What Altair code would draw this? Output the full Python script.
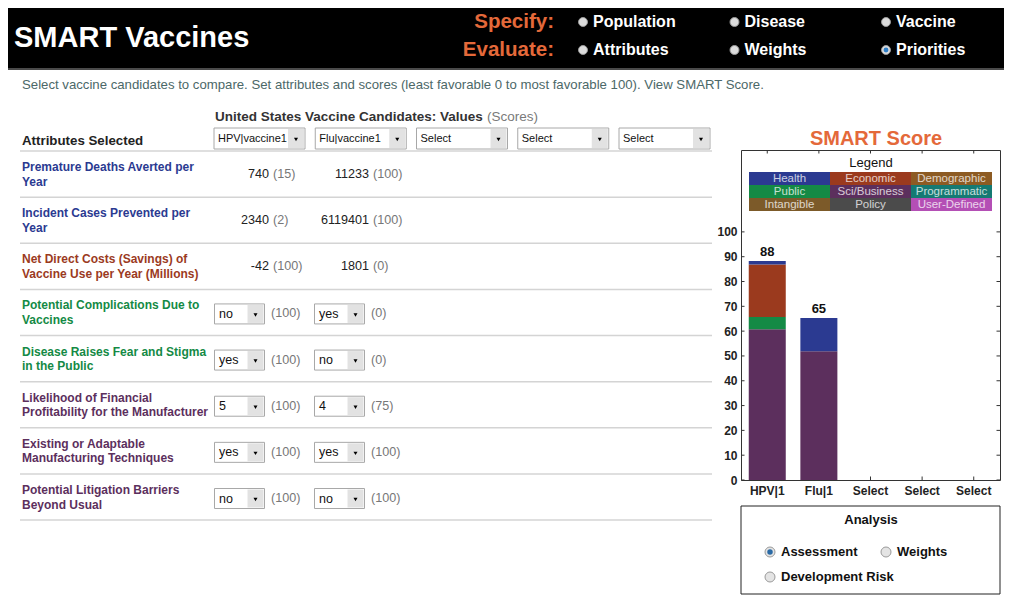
import altair as alt
import pandas as pd

FONT = "Liberation Sans"

# ---------------- values ----------------
candidates = ["HPV|1", "Flu|1", "Select1", "Select2", "Select3"]
candidate_menus = ["HPV|vaccine1", "Flu|vaccine1", "Select", "Select", "Select"]

categories = ["Health", "Economic", "Demographic", "Public", "Sci/Business",
              "Programmatic", "Intangible", "Policy", "User-Defined"]
category_colors = ["#2b3a91", "#9b3a1e", "#8d5b23", "#148a45", "#5c2f5d",
                   "#147a73", "#7c5a29", "#4b4b4b", "#b44fb5"]

score_candidate = ["HPV|1", "HPV|1", "HPV|1", "HPV|1", "Flu|1", "Flu|1"]
score_category = ["Sci/Business", "Public", "Economic", "Health", "Sci/Business", "Health"]
score_value = [60.8, 4.9, 21.2, 1.4, 51.9, 13.4]

y_ticks = [0, 10, 20, 30, 40, 50, 60, 70, 80, 90, 100]

attributes = [
    "Premature Deaths Averted per\nYear",
    "Incident Cases Prevented per\nYear",
    "Net Direct Costs (Savings) of\nVaccine Use per Year (Millions)",
    "Potential Complications Due to\nVaccines",
    "Disease Raises Fear and Stigma\nin the Public",
    "Likelihood of Financial\nProfitability for the Manufacturer",
    "Existing or Adaptable\nManufacturing Techniques",
    "Potential Litigation Barriers\nBeyond Usual",
]
attribute_category = ["Health", "Health", "Economic", "Public", "Public",
                      "Sci/Business", "Sci/Business", "Sci/Business"]
attribute_input = ["number", "number", "number", "menu", "menu", "menu", "menu", "menu"]
hpv_values = ["740", "2340", "-42", "no", "yes", "5", "yes", "no"]
hpv_scores = [15, 2, 100, 100, 100, 100, 100, 100]
flu_values = ["11233", "6119401", "1801", "yes", "no", "4", "yes", "no"]
flu_scores = [100, 100, 0, 0, 0, 75, 100, 100]

specify_options = ["Population", "Disease", "Vaccine"]
evaluate_options = ["Attributes", "Weights", "Priorities"]
selected_nav = "Priorities"

analysis_options = ["Assessment", "Weights", "Development Risk"]
selected_analysis = "Assessment"

ORANGE = "#e4693a"

# ---------------- layout helpers (page pixel -> plot-relative pixel) ----------------
OX, OY = 741, 150


def X(px):
    return px - OX


def Y(py):
    return py - OY


one = pd.DataFrame({"k": [0]})


def text_at(txt, px, py, **kw):
    kw.setdefault("font", FONT)
    return alt.Chart(one).mark_text(text=txt, **kw).encode(
        x=alt.value(X(px)), y=alt.value(Y(py)))


def rect_at(px1, py1, px2, py2, **kw):
    return alt.Chart(one).mark_rect(**kw).encode(
        x=alt.value(X(px1)), x2=alt.value(X(px2)),
        y=alt.value(Y(py1)), y2=alt.value(Y(py2)))


# ---------------- header ----------------
header = alt.layer(
    rect_at(8, 8, 1004, 68, color="black"),
    rect_at(8, 68, 1004, 70, color="#4a4a4a"),
    text_at("SMART Vaccines", 14, 38, align="left", baseline="middle",
            fontSize=29, fontWeight="bold", color="white"),
)

nav_df = pd.DataFrame({
    "group": ["Specify"] * 3 + ["Evaluate"] * 3,
    "col": [0, 1, 2, 0, 1, 2],
    "option": specify_options + evaluate_options,
})
nav_df["selected"] = nav_df["option"] == selected_nav
groups_df = pd.DataFrame({"group": ["Specify", "Evaluate"]})
nx = alt.X("col:O", scale=alt.Scale(type="point", domain=[0, 1, 2],
                                     range=[X(583), X(886)], padding=0), axis=None)
ny = alt.Y("group:N", scale=alt.Scale(type="point", domain=["Specify", "Evaluate"],
                                       range=[Y(22), Y(50)], padding=0), axis=None)
nav = alt.layer(
    alt.Chart(groups_df).transform_calculate(lbl="datum.group + ':'").mark_text(
        align="right", baseline="middle", font=FONT, fontSize=20.5, fontWeight="bold",
        color=ORANGE).encode(x=alt.value(X(554)), y=ny, text="lbl:N"),
    alt.Chart(nav_df).mark_circle(size=80, fill="#dcdcdc", stroke="#9a9a9a",
                                  strokeWidth=1, opacity=1).encode(x=nx, y=ny),
    alt.Chart(nav_df).transform_filter("datum.selected").mark_circle(
        size=24, color="#2f7fc8", opacity=1).encode(x=nx, y=ny),
    alt.Chart(nav_df).mark_text(align="left", baseline="middle", dx=10, font=FONT,
                                fontSize=16, fontWeight="bold", color="white").encode(
        x=nx, y=ny, text="option:N"),
)

# ---------------- instructions and table headings ----------------
headings = alt.layer(
    text_at("Select vaccine candidates to compare. Set attributes and scores "
            "(least favorable 0 to most favorable 100). View SMART Score.",
            22, 85, align="left", baseline="middle", fontSize=13.2, color="#4c6868"),
    text_at("United States Vaccine Candidates: Values", 215, 117, align="left",
            baseline="middle", fontSize=13.5, fontWeight="bold", color="#333333"),
    text_at("(Scores)", 487, 117, align="left", baseline="middle", fontSize=13.5,
            color="#7a7a7a"),
    text_at("Attributes Selected", 22, 141, align="left", baseline="middle",
            fontSize=13.3, fontWeight="bold", color="#222222"),
    text_at("SMART Score", 876, 139, align="center", baseline="middle",
            fontSize=20, fontWeight="bold", color=ORANGE),
)

# header drop-down menus
menus_df = pd.DataFrame({"candidate": candidates, "menu": candidate_menus})
hx = alt.X("candidate:N", scale=alt.Scale(type="point", domain=candidates,
                                           range=[X(214), X(619)], padding=0), axis=None)
hy1, hy2 = alt.value(Y(128)), alt.value(Y(149))
menus = alt.layer(
    alt.Chart(menus_df).mark_rect(width=91, xOffset=45.5, fill="white",
                                  stroke="#a8a8a8", strokeWidth=1).encode(x=hx, y=hy1, y2=hy2),
    alt.Chart(menus_df).mark_rect(width=16, xOffset=82, fill="#e2e2e2").encode(
        x=hx, y=alt.value(Y(129)), y2=alt.value(Y(148))),
    alt.Chart(menus_df).mark_point(shape="triangle-down", filled=True, size=16,
                                   color="black", opacity=1, xOffset=82).encode(
        x=hx, y=alt.value(Y(139.5))),
    alt.Chart(menus_df).mark_text(align="left", baseline="middle", dx=4, font=FONT,
                                  fontSize=11, color="#111111").encode(
        x=hx, y=alt.value(Y(138.5)), text="menu:N"),
)

# row separators
sep_df = pd.DataFrame({"sep": list(range(len(attributes) + 1))})
separators = alt.Chart(sep_df).mark_rule(color="#d4d4d4", strokeWidth=1.5).encode(
    y=alt.Y("sep:Q", scale=alt.Scale(domain=[0, len(attributes)], range=[Y(151), Y(520)]),
            axis=None),
    x=alt.value(X(20)), x2=alt.value(X(712)))

# table body
rows = []
for i, a in enumerate(attributes):
    for cand, vals, scs in (("HPV|1", hpv_values, hpv_scores), ("Flu|1", flu_values, flu_scores)):
        rows.append({"attribute": a, "category": attribute_category[i],
                     "input": attribute_input[i], "candidate": cand,
                     "value": vals[i], "score": f"({scs[i]})"})
table_df = pd.DataFrame(rows)
labels_df = pd.DataFrame({"attribute": attributes, "category": attribute_category})

cat_scale = alt.Scale(domain=categories, range=category_colors)
ty = alt.Y("attribute:N", scale=alt.Scale(type="point", domain=attributes,
                                           range=[Y(174), Y(497)], padding=0), axis=None)
tx = alt.X("candidate:N", scale=alt.Scale(type="point", domain=["HPV|1", "Flu|1"],
                                           range=[X(270), X(370)], padding=0), axis=None)
nums = alt.Chart(table_df).transform_filter("datum.input === 'number'")
sels = alt.Chart(table_df).transform_filter("datum.input === 'menu'")
table = alt.layer(
    alt.Chart(labels_df).mark_text(align="left", baseline="middle", lineBreak="\n",
                                   lineHeight=14.5, dy=-7, font=FONT, fontSize=12,
                                   fontWeight="bold").encode(
        x=alt.value(X(22)), y=ty, text="attribute:N",
        color=alt.Color("category:N", scale=cat_scale, legend=None)),
    nums.mark_text(align="right", baseline="middle", dx=-1, font=FONT, fontSize=12.6,
                   color="#222222").encode(x=tx, y=ty, text="value:N"),
    nums.mark_text(align="left", baseline="middle", dx=3, font=FONT, fontSize=12.6,
                   color="#777777").encode(x=tx, y=ty, text="score:N"),
    sels.mark_rect(width=50, height=20, xOffset=-30.5, yOffset=1.5, fill="white",
                   stroke="#a8a8a8", strokeWidth=1).encode(x=tx, y=ty),
    sels.mark_rect(width=16, height=18, xOffset=-14.5, yOffset=1.5,
                   fill="#e2e2e2").encode(x=tx, y=ty),
    sels.mark_point(shape="triangle-down", filled=True, size=16, color="black",
                    opacity=1, xOffset=-14.5, yOffset=2.5).encode(x=tx, y=ty),
    sels.mark_text(align="left", baseline="middle", dx=-51, dy=1.5, font=FONT,
                   fontSize=12.5, color="#111111").encode(x=tx, y=ty, text="value:N"),
    sels.mark_text(align="left", baseline="middle", dx=1, dy=1, font=FONT,
                   fontSize=12.6, color="#777777").encode(x=tx, y=ty, text="score:N"),
)

# ---------------- SMART score plot ----------------
scores_df = pd.DataFrame({"candidate": score_candidate, "category": score_category,
                          "value": score_value})
tick_df = pd.DataFrame({"value": y_ticks})
cand_df = pd.DataFrame({"candidate": candidates})

axis_style = dict(title=None, ticks=False, domain=False, grid=False, labelFont=FONT,
                  labelFontSize=12, labelFontWeight="bold", labelColor="#222222")
xcand = alt.X("candidate:N",
              scale=alt.Scale(domain=candidates, paddingInner=0.283, paddingOuter=0.15),
              axis=alt.Axis(labelAngle=0, labelPadding=5,
                            labelExpr="indexof(datum.label, 'Select') === 0 ? 'Select' : datum.label",
                            **axis_style))
yscale = alt.Scale(domain=[0, 133], nice=False, zero=True)
yaxis = alt.Axis(values=y_ticks, labelPadding=4, **axis_style)

tick_color = "#333333"
score_plot = alt.layer(
    alt.Chart(tick_df).mark_rule(color=tick_color).encode(
        y=alt.Y("value:Q", scale=yscale, axis=yaxis), x=alt.value(0), x2=alt.value(3.5)),
    alt.Chart(tick_df).mark_rule(color=tick_color).encode(
        y=alt.Y("value:Q", scale=yscale, axis=yaxis), x=alt.value(255.5), x2=alt.value(259)),
    alt.Chart(cand_df).mark_rule(color=tick_color).encode(
        x=xcand, y=alt.value(0), y2=alt.value(3.5)),
    alt.Chart(cand_df).mark_rule(color=tick_color).encode(
        x=xcand, y=alt.value(326.5), y2=alt.value(330)),
    alt.Chart(scores_df).transform_calculate(
        rank=f"indexof({categories}, datum.category)"
    ).mark_bar().encode(
        x=xcand,
        y=alt.Y("value:Q", stack="zero", scale=yscale, axis=yaxis),
        color=alt.Color("category:N", scale=cat_scale, legend=None),
        order=alt.Order("rank:Q", sort="descending")),
    alt.Chart(scores_df).transform_aggregate(
        value="sum(value)", groupby=["candidate"]
    ).mark_text(baseline="bottom", dy=-2, font=FONT, fontSize=13, fontWeight="bold",
                color="#111111").encode(
        x=xcand, y=alt.Y("value:Q", scale=yscale, axis=yaxis),
        text=alt.Text("value:Q", format=".0f")),
)

# legend drawn inside the plot frame
legend_df = pd.DataFrame({"category": categories,
                          "lcol": [i % 3 for i in range(len(categories))],
                          "lrow": [i // 3 for i in range(len(categories))]})
lx = alt.X("lcol:O", scale=alt.Scale(type="band", domain=[0, 1, 2], range=[X(749), X(992)],
                                      paddingInner=0, paddingOuter=0), axis=None)
ly = alt.Y("lrow:O", scale=alt.Scale(type="band", domain=[0, 1, 2], range=[Y(172), Y(211)],
                                      paddingInner=0, paddingOuter=0), axis=None)
legend = alt.layer(
    text_at("Legend", 871, 163, align="center", baseline="middle", fontSize=13,
            color="#111111"),
    alt.Chart(legend_df).mark_rect().encode(
        x=lx, y=ly, color=alt.Color("category:N", scale=cat_scale, legend=None)),
    alt.Chart(legend_df).mark_text(baseline="middle", font=FONT, fontSize=11.5,
                                   color="white", opacity=0.75).encode(
        x=lx, y=ly, text="category:N"),
)

# ---------------- analysis box ----------------
an_df = pd.DataFrame({"option": analysis_options,
                      "acol": [i % 2 for i in range(len(analysis_options))],
                      "arow": [i // 2 for i in range(len(analysis_options))]})
an_df["selected"] = an_df["option"] == selected_analysis
ax = alt.X("acol:O", scale=alt.Scale(type="point", domain=[0, 1], range=[X(770), X(886)],
                                      padding=0), axis=None)
ay = alt.Y("arow:O", scale=alt.Scale(type="point", domain=[0, 1], range=[Y(552), Y(577)],
                                      padding=0), axis=None)
analysis = alt.layer(
    rect_at(741, 506, 1000, 594, fill="white", stroke="#222222", strokeWidth=1),
    text_at("Analysis", 871, 520, align="center", baseline="middle", fontSize=13,
            fontWeight="bold", color="#111111"),
    alt.Chart(an_df).mark_circle(size=100, fill="#e4e4e4", stroke="#9a9a9a",
                                 strokeWidth=1, opacity=1).encode(x=ax, y=ay),
    alt.Chart(an_df).transform_filter("datum.selected").mark_circle(
        size=30, color="#2a6aa5", opacity=1).encode(x=ax, y=ay),
    alt.Chart(an_df).mark_text(align="left", baseline="middle", dx=11, font=FONT,
                               fontSize=13, fontWeight="bold", color="#111111").encode(
        x=ax, y=ay, text="option:N"),
)

chart = alt.layer(
    header, nav, headings, menus, separators, table, score_plot, legend, analysis
).resolve_scale(
    x="independent", y="independent"
).properties(
    width=259, height=330,
    padding={"left": 733, "top": 142, "right": 4, "bottom": 116},
    autosize=alt.AutoSizeParams(type="none"),
).configure_view(stroke="#333333", strokeWidth=1)

chart.save("out.html", embed_options={"renderer": "svg", "actions": False})
